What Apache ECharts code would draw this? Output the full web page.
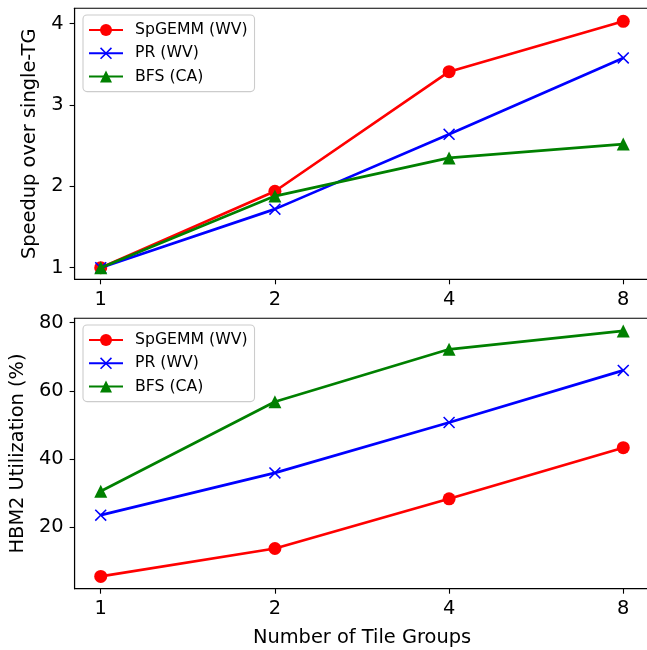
<!DOCTYPE html>
<html>
<head>
<meta charset="utf-8">
<script src="https://cdn.jsdelivr.net/npm/echarts@6/dist/echarts.min.js"></script>
<style>
html,body{margin:0;padding:0;background:#fff;}
#chart{width:647px;height:650px;}
</style>
</head>
<body>
<div id="chart"></div>
<script>
// ---- data ----
var tileGroups = [1, 2, 4, 8];
var seriesNames = ['SpGEMM (WV)', 'PR (WV)', 'BFS (CA)'];
var speedupSpGEMM = [1.00, 1.94, 3.41, 4.03];
var speedupPR = [1.00, 1.72, 2.64, 3.58];
var speedupBFS = [1.00, 1.88, 2.35, 2.52];
var hbmSpGEMM = [5.5, 13.7, 28.3, 43.3];
var hbmPR = [23.5, 35.9, 50.7, 66.0];
var hbmBFS = [30.5, 56.8, 72.2, 77.6];
var speedupTicks = [1, 2, 3, 4];
var hbmTicks = [20, 40, 60, 80];
var xTicks = [1, 2, 4, 8];

var FONT = 'DejaVu Sans';
var colors = ['#ff0000', '#0000ff', '#008000'];
var symbols = ['circle',
  'path://M0,9L9,0L50,41L91,0L100,9L59,50L100,91L91,100L50,59L9,100L0,91L41,50Z',
  'triangle'];
var symbolSizes = [13, 12, 13];

function pairs(vals) {
  return tileGroups.map(function (x, i) { return [x, vals[i]]; });
}

function mkSeries(vals, k, axisIdx) {
  return {
    name: seriesNames[k],
    type: 'line',
    xAxisIndex: axisIdx,
    yAxisIndex: axisIdx,
    data: pairs(vals),
    symbol: symbols[k],
    symbolSize: symbolSizes[k],
    showAllSymbol: true,
    color: colors[k],
    lineStyle: { color: colors[k], width: 2.7 },
    itemStyle: { color: colors[k] },
    emphasis: { disabled: true },
    animation: false,
    z: 3 + k
  };
}

function mkX(gridIdx) {
  return {
    type: 'log', logBase: 2, gridIndex: gridIdx,
    min: Math.pow(2, -0.15), max: Math.pow(2, 3.15),
    splitLine: { show: false }, minorSplitLine: { show: false },
    axisLine: { show: true, lineStyle: { color: '#000', width: 1.1 } },
    axisTick: { show: true, length: 5, lineStyle: { color: '#000', width: 1.1 }, customValues: xTicks },
    axisLabel: { show: true, customValues: xTicks, margin: 11, fontFamily: FONT, fontSize: 19.4, color: '#000',
      formatter: function (v) { return String(Math.round(v)); } },
    name: gridIdx === 1 ? 'Number of Tile Groups' : '',
    nameLocation: 'middle', nameGap: 40,
    nameTextStyle: { fontFamily: FONT, fontSize: 19.4, color: '#000' }
  };
}

function mkY(gridIdx, min, max, ticks, name, gap) {
  return {
    type: 'value', gridIndex: gridIdx, min: min, max: max,
    splitLine: { show: false },
    axisLine: { show: true, lineStyle: { color: '#000', width: 1.1 } },
    axisTick: { show: true, length: 5, lineStyle: { color: '#000', width: 1.1 }, customValues: ticks },
    axisLabel: { show: true, customValues: ticks, margin: 11, fontFamily: FONT, fontSize: 19.4, color: '#000',
      formatter: function (v) { return String(v); } },
    name: name, nameLocation: 'middle', nameGap: gap, nameRotate: 90,
    nameTextStyle: { fontFamily: FONT, fontSize: 19.4, color: '#000' }
  };
}

function mkLegend(top) {
  return {
    left: 83, top: top, orient: 'vertical',
    data: seriesNames,
    itemWidth: 34, itemHeight: 15, itemGap: 5.3,
    padding: [6, 7, 6, 5],
    borderColor: '#cccccc', borderWidth: 1.1, borderRadius: 4,
    backgroundColor: 'rgba(255,255,255,0.8)',
    textStyle: { fontFamily: FONT, fontSize: 15.7, color: '#000', lineHeight: 18, padding: [0, 0, 0, 7] },
    selectedMode: false,
    z: 10
  };
}

var chart = echarts.init(document.getElementById('chart'), null, { renderer: 'canvas' });
chart.setOption({
  backgroundColor: '#fff',
  animation: false,
  legend: [mkLegend(15), mkLegend(325)],
  grid: [
    { left: 74.6, top: 8.3, width: 574.8, height: 271, outerBoundsMode: 'none', containLabel: false,
      show: true, borderColor: '#000', borderWidth: 1.1, backgroundColor: 'transparent' },
    { left: 74.6, top: 318.3, width: 574.8, height: 270.4, outerBoundsMode: 'none', containLabel: false,
      show: true, borderColor: '#000', borderWidth: 1.1, backgroundColor: 'transparent' }
  ],
  xAxis: [mkX(0), mkX(1)],
  yAxis: [
    mkY(0, 0.857, 4.19, speedupTicks, 'Speedup over single-TG', 35),
    mkY(1, 1.9, 81.3, hbmTicks, 'HBM2 Utilization (%)', 47)
  ],
  series: [
    mkSeries(speedupSpGEMM, 0, 0), mkSeries(speedupPR, 1, 0), mkSeries(speedupBFS, 2, 0),
    mkSeries(hbmSpGEMM, 0, 1), mkSeries(hbmPR, 1, 1), mkSeries(hbmBFS, 2, 1)
  ]
});
</script>
</body>
</html>
